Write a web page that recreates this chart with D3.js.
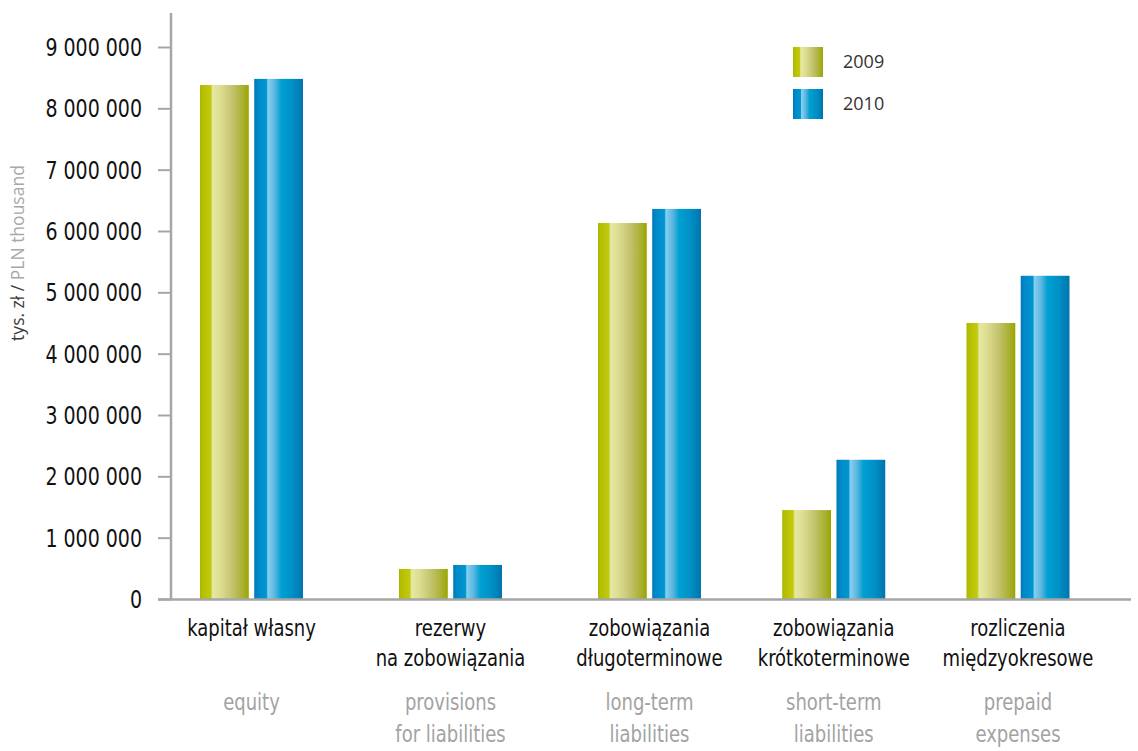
<!DOCTYPE html>
<html>
<head>
<meta charset="utf-8">
<script src="https://cdn.jsdelivr.net/npm/d3@7"></script>
<style>
  html, body { margin: 0; padding: 0; background: #fff; }
  svg { display: block; }
  .narrow { font-family: "Liberation Sans Narrow", "DejaVu Sans Condensed", "Arial Narrow", sans-serif; }
</style>
</head>
<body>
<svg id="chart" width="1138" height="751"></svg>
<script>
// Balance sheet items (PLN thousand)
const categoriesPl = [
  ["kapitał własny"],
  ["rezerwy", "na zobowiązania"],
  ["zobowiązania", "długoterminowe"],
  ["zobowiązania", "krótkoterminowe"],
  ["rozliczenia", "międzyokresowe"]
];
const categoriesEn = [
  ["equity"],
  ["provisions", "for liabilities"],
  ["long-term", "liabilities"],
  ["short-term", "liabilities"],
  ["prepaid", "expenses"]
];
const seriesNames = ["2009", "2010"];
const values2009 = [8380000, 490000, 6130000, 1450000, 4500000];
const values2010 = [8480000, 555000, 6360000, 2270000, 5270000];
const yTicks = [0, 1000000, 2000000, 3000000, 4000000, 5000000, 6000000, 7000000, 8000000, 9000000];

const svg = d3.select("#chart");
const defs = svg.append("defs");

// Cylinder-like horizontal gradients for each series
function cylinder(id, stops) {
  const g = defs.append("linearGradient").attr("id", id)
    .attr("x1", "0%").attr("x2", "100%").attr("y1", "0%").attr("y2", "0%");
  stops.forEach(([o, c]) => g.append("stop").attr("offset", o).attr("stop-color", c));
}
cylinder("grad2009", [
  ["0%", "#a8b400"], ["4%", "#b4be00"], ["22%", "#c2ca10"], ["26%", "#e6e9a4"],
  ["42%", "#dcdd90"], ["65%", "#c4c470"], ["88%", "#a9b030"], ["100%", "#9aa600"]
]);
cylinder("grad2010", [
  ["0%", "#0079b8"], ["7%", "#0088c8"], ["25%", "#0096d2"], ["28%", "#86d0f0"],
  ["42%", "#5cb6e0"], ["55%", "#00a0d2"], ["78%", "#0090c6"], ["100%", "#0074ad"]
]);
const fills = { "2009": "url(#grad2009)", "2010": "url(#grad2010)" };

const y = d3.scaleLinear().domain([0, 9000000]).range([599, 47]);
// Group centres: the layout tightens slightly towards the right-hand side
const xc = d3.scaleLinear().domain([0, 2, 4]).range([251.5, 649.5, 1018]);
const x1 = d3.scaleBand().domain(seriesNames).range([0, 103]).paddingInner(0.1);

const fmt = d3.formatLocale({ decimal: ",", thousands: " ", grouping: [3], currency: ["", " zł"] }).format(",d");

// Bars
const data = categoriesPl.map((c, i) => ({ i, vals: [values2009[i], values2010[i]] }));
const groups = svg.append("g").selectAll("g").data(data).join("g")
  .attr("transform", d => `translate(${xc(d.i) - 51.5},0)`);
groups.selectAll("rect")
  .data(d => d.vals.map((v, k) => ({ s: seriesNames[k], v })))
  .join("rect")
  .attr("x", d => x1(d.s))
  .attr("width", x1.bandwidth())
  .attr("y", d => y(d.v))
  .attr("height", d => y(0) - y(d.v))
  .attr("fill", d => fills[d.s]);

// Y axis
const yAxis = svg.append("g").attr("transform", "translate(171,0)")
  .call(d3.axisLeft(y).tickValues(yTicks).tickSize(13).tickPadding(16).tickFormat(fmt));
yAxis.select(".domain").remove();
yAxis.selectAll(".tick line").attr("stroke", "#a6a6a6").attr("stroke-width", 2);
yAxis.selectAll(".tick text").attr("class", "narrow").attr("fill", "#111")
  .style("font-size", "24px").attr("x", 0).attr("dy", "0.36em")
  .attr("transform", "translate(-29,0) scale(0.88,1)");
svg.append("line").attr("x1", 171).attr("x2", 171).attr("y1", 13).attr("y2", 600)
  .attr("stroke", "#a6a6a6").attr("stroke-width", 2.5);
// Baseline
svg.append("line").attr("x1", 158).attr("x2", 1131).attr("y1", y(0) + 0.5).attr("y2", y(0) + 0.5)
  .attr("stroke", "#a6a6a6").attr("stroke-width", 2.5);

// Y axis title
const yt = svg.append("text")
  .attr("transform", "translate(24,253) rotate(-90)")
  .attr("text-anchor", "middle")
  .style("font-family", "'Open Sans', 'Noto Sans', sans-serif")
  .style("font-size", "17.5px");
yt.append("tspan").attr("fill", "#3a3a3a").text("tys. zł / ");
yt.append("tspan").attr("fill", "#a8a8a8").text("PLN thousand");

// Category labels
const labels = svg.append("g").selectAll("g").data(data).join("g")
  .attr("transform", d => `translate(${xc(d.i)},0)`);
labels.append("text").attr("class", "narrow").attr("text-anchor", "middle")
  .attr("transform", "scale(0.87,1)")
  .attr("fill", "#111").style("font-size", "23px")
  .selectAll("tspan").data(d => categoriesPl[d.i]).join("tspan")
  .attr("x", 0).attr("y", (d, k) => 636 + k * 30).text(d => d);
labels.append("text").attr("class", "narrow").attr("text-anchor", "middle")
  .attr("transform", "scale(0.87,1)")
  .attr("fill", "#a3a3a3").style("font-size", "23px")
  .selectAll("tspan").data(d => categoriesEn[d.i]).join("tspan")
  .attr("x", 0).attr("y", (d, k) => 710 + k * 32).text(d => d);

// Legend
const legend = svg.append("g").selectAll("g").data(seriesNames).join("g")
  .attr("transform", (d, k) => `translate(793,${47 + k * 42})`);
legend.append("rect").attr("width", 30).attr("height", 30).attr("fill", d => fills[d]);
legend.append("text").attr("x", 50).attr("y", 15).attr("dy", "0.35em")
  .style("font-family", "'Open Sans', 'Noto Sans', sans-serif").style("font-size", "18px")
  .attr("fill", "#333").text(d => d);
</script>
</body>
</html>
